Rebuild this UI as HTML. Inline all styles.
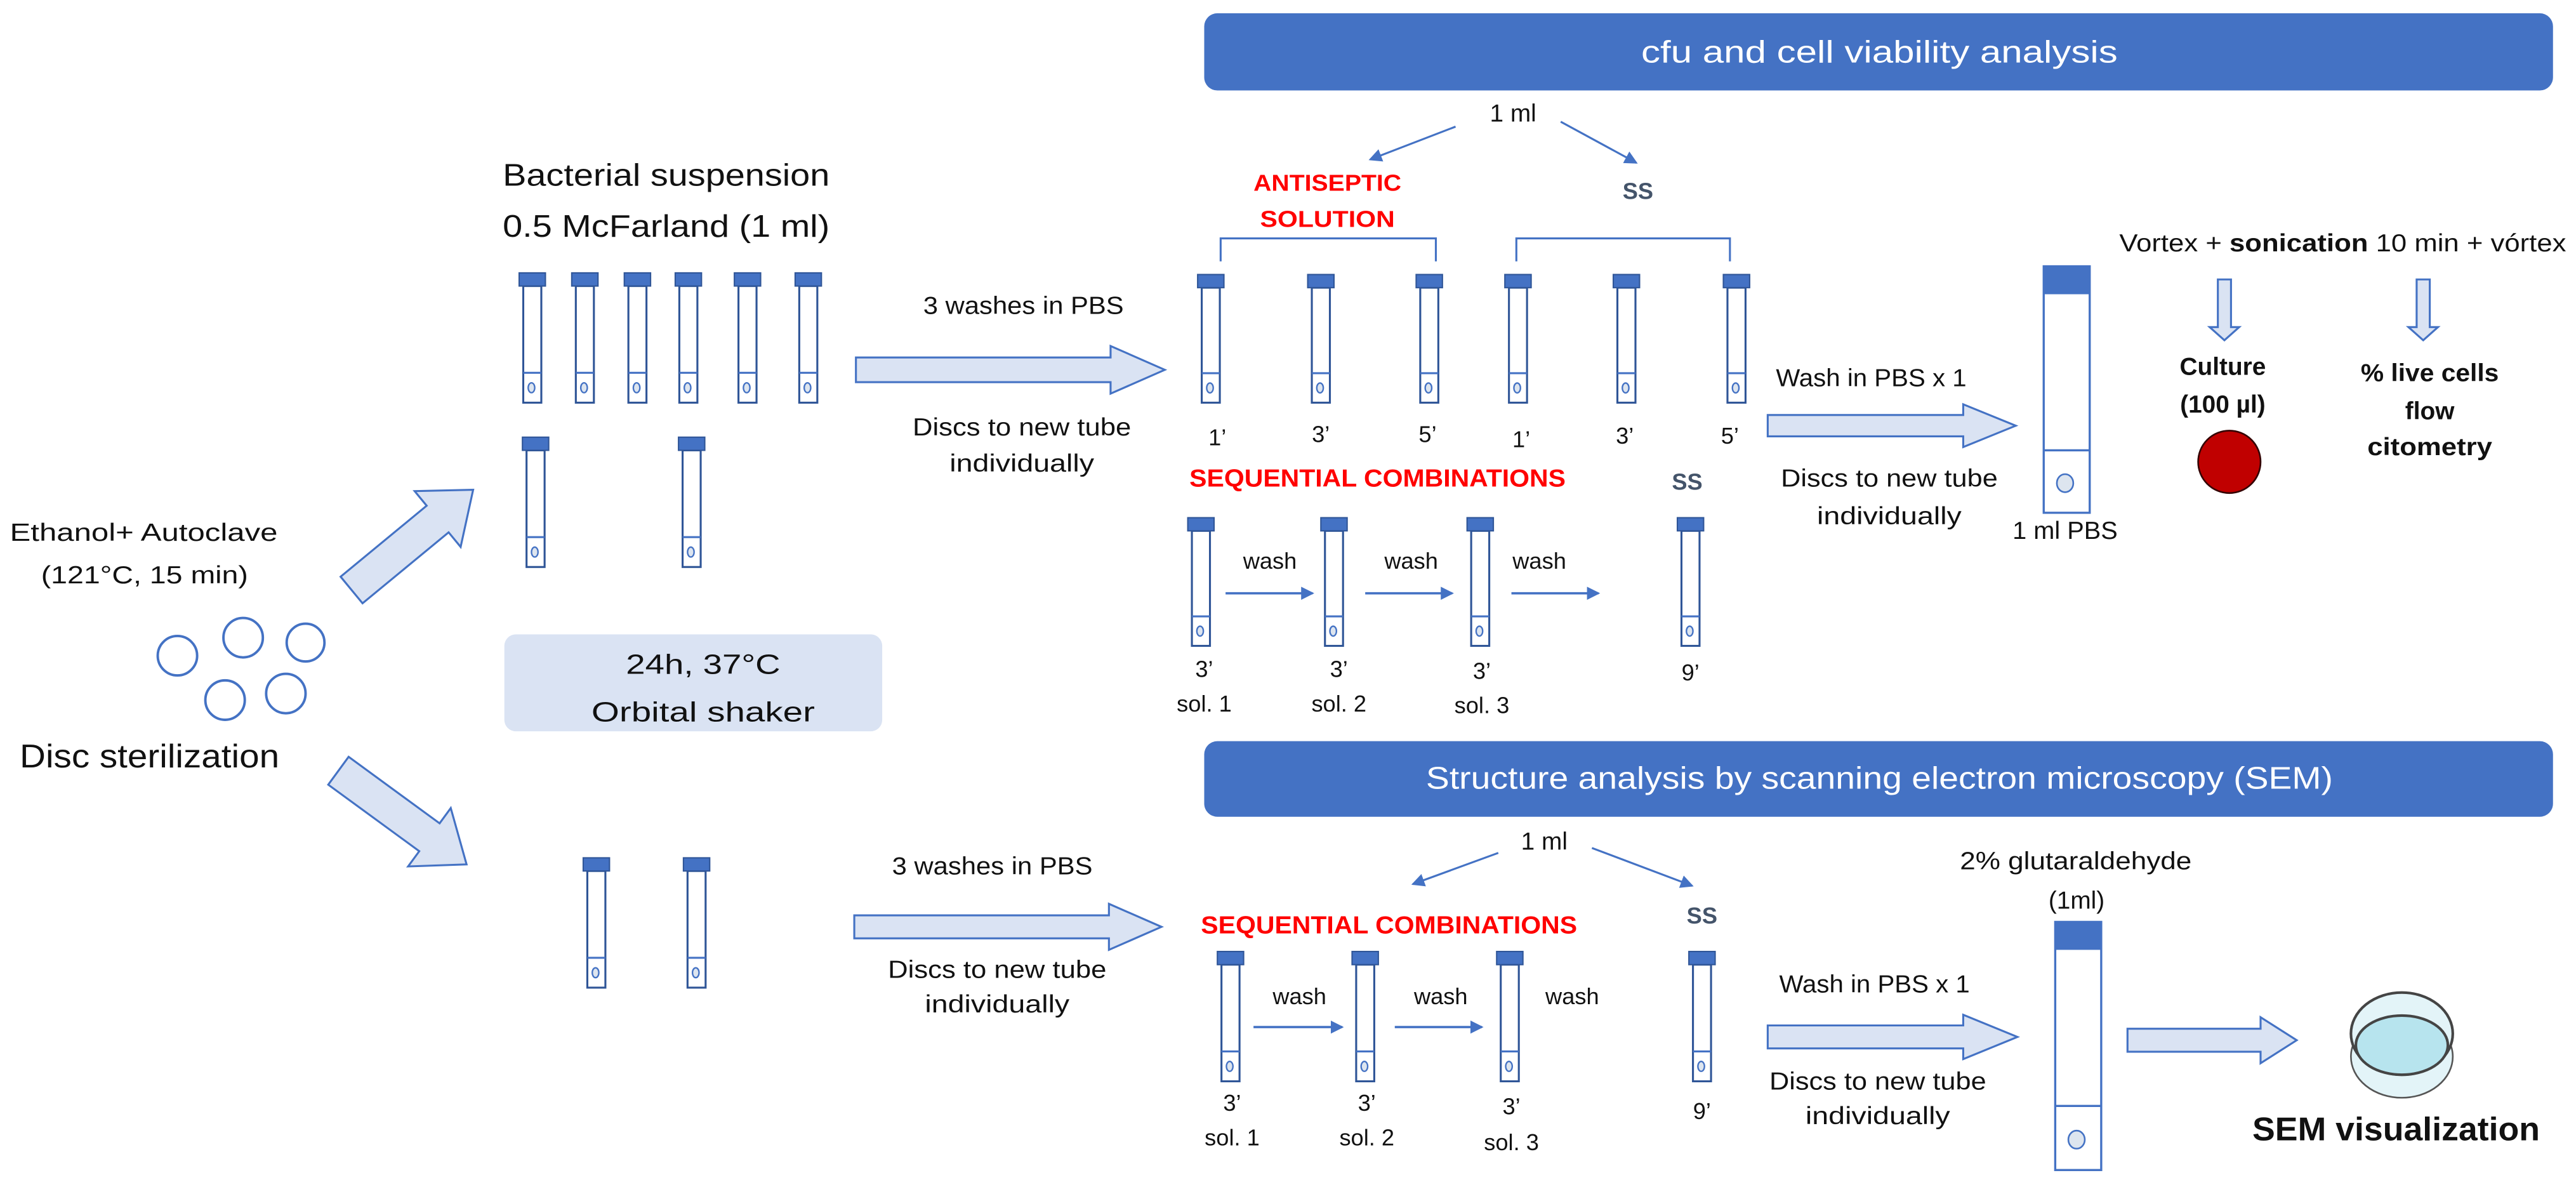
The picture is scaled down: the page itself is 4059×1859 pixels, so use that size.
<!DOCTYPE html>
<html><head><meta charset="utf-8">
<style>
html,body{margin:0;padding:0;background:#fff;}
svg{display:block;}
text{font-family:"Liberation Sans",sans-serif;fill:#111;}
</style></head>
<body>
<svg id="s" width="4059" height="1859" viewBox="0 0 1568 718" xmlns="http://www.w3.org/2000/svg">
<defs>
<marker id="ah" markerWidth="8" markerHeight="8" refX="7" refY="4" orient="auto" markerUnits="userSpaceOnUse">
<path d="M0,0 L8,4 L0,8 z" fill="#4472C4"/></marker>
</defs>
<!-- header bars -->
<rect x="733" y="8" width="821" height="47" rx="8" fill="#4472C4"/>
<text x="1144" y="38" font-size="19" text-anchor="middle" textLength="290" lengthAdjust="spacingAndGlyphs" style="fill:#fff">cfu and cell viability analysis</text>
<rect x="733" y="451" width="821" height="46" rx="8" fill="#4472C4"/>
<text x="1144" y="480" font-size="19" text-anchor="middle" textLength="552" lengthAdjust="spacingAndGlyphs" style="fill:#fff">Structure analysis by scanning electron microscopy (SEM)</text>

<!-- left section -->
<text x="306" y="113" font-size="19" textLength="199" lengthAdjust="spacingAndGlyphs">Bacterial suspension</text>
<text x="306" y="144" font-size="19" textLength="199" lengthAdjust="spacingAndGlyphs">0.5 McFarland (1 ml)</text>
<text x="6" y="329" font-size="15" textLength="163" lengthAdjust="spacingAndGlyphs">Ethanol+  Autoclave</text>
<text x="88" y="355" font-size="15" text-anchor="middle" textLength="126" lengthAdjust="spacingAndGlyphs">(121°C, 15 min)</text>
<g fill="none" stroke="#4472C4" stroke-width="1.5">
<circle cx="108" cy="399" r="12"/><circle cx="148" cy="388" r="12"/><circle cx="186" cy="391" r="11.5"/>
<circle cx="137" cy="426" r="12"/><circle cx="174" cy="422" r="12"/></g>
<text x="12" y="467" font-size="20" textLength="158" lengthAdjust="spacingAndGlyphs">Disc sterilization</text>
<rect x="307" y="386" width="230" height="59" rx="7" fill="#DAE3F3"/>
<text x="428" y="410" font-size="17" text-anchor="middle" textLength="94" lengthAdjust="spacingAndGlyphs">24h, 37°C</text>
<text x="428" y="439" font-size="17" text-anchor="middle" textLength="136" lengthAdjust="spacingAndGlyphs">Orbital shaker</text>

<g id="arrows" fill="#DAE3F3" stroke="#4472C4" stroke-width="1.2"></g>
<g id="tubes"></g>

<!-- top middle -->
<text x="921" y="74" font-size="15" text-anchor="middle">1 ml</text>
<line x1="886" y1="77" x2="834" y2="97" stroke="#4472C4" stroke-width="1.2" marker-end="url(#ah)"/>
<line x1="950" y1="74" x2="996" y2="99" stroke="#4472C4" stroke-width="1.2" marker-end="url(#ah)"/>
<text x="808" y="116" font-size="14" font-weight="bold" text-anchor="middle" textLength="90" lengthAdjust="spacingAndGlyphs" style="fill:#FF0000">ANTISEPTIC</text>
<text x="808" y="138" font-size="14" font-weight="bold" text-anchor="middle" textLength="82" lengthAdjust="spacingAndGlyphs" style="fill:#FF0000">SOLUTION</text>
<text x="997" y="121" font-size="14" font-weight="bold" text-anchor="middle" style="fill:#44546A">SS</text>
<path d="M743,159 V145 H874 V159" fill="none" stroke="#4472C4" stroke-width="1.2"/>
<path d="M923,159 V145 H1053 V159" fill="none" stroke="#4472C4" stroke-width="1.2"/>
<g font-size="14" text-anchor="middle">
<text x="741" y="271">1’</text><text x="804" y="269">3’</text><text x="869" y="269">5’</text>
<text x="926" y="272">1’</text><text x="989" y="270">3’</text><text x="1053" y="270">5’</text></g>
<text x="623" y="191" font-size="15" text-anchor="middle" textLength="122" lengthAdjust="spacingAndGlyphs">3 washes in PBS</text>
<text x="622" y="265" font-size="15" text-anchor="middle" textLength="133" lengthAdjust="spacingAndGlyphs">Discs to new tube</text>
<text x="622" y="287" font-size="15" text-anchor="middle" textLength="88" lengthAdjust="spacingAndGlyphs">individually</text>
<text x="724" y="296" font-size="15" font-weight="bold" textLength="229" lengthAdjust="spacingAndGlyphs" style="fill:#FF0000">SEQUENTIAL COMBINATIONS</text>
<text x="1027" y="298" font-size="14" font-weight="bold" text-anchor="middle" style="fill:#44546A">SS</text>
<g font-size="14" text-anchor="middle">
<text x="733" y="412">3’</text><text x="733" y="433">sol. 1</text>
<text x="815" y="412">3’</text><text x="815" y="433">sol. 2</text>
<text x="902" y="413">3’</text><text x="902" y="434">sol. 3</text>
<text x="1029" y="414">9’</text>
<text x="773" y="346">wash</text><text x="859" y="346">wash</text><text x="937" y="346">wash</text></g>
<g stroke="#4472C4" stroke-width="1.4" marker-end="url(#ah)">
<line x1="746" y1="361" x2="799" y2="361"/><line x1="831" y1="361" x2="884" y2="361"/><line x1="920" y1="361" x2="973" y2="361"/></g>
<text x="1139" y="235" font-size="15" text-anchor="middle" textLength="116" lengthAdjust="spacingAndGlyphs">Wash in PBS x 1</text>
<text x="1150" y="296" font-size="15" text-anchor="middle" textLength="132" lengthAdjust="spacingAndGlyphs">Discs to new tube</text>
<text x="1150" y="319" font-size="15" text-anchor="middle" textLength="88" lengthAdjust="spacingAndGlyphs">individually</text>
<text x="1257" y="328" font-size="15" text-anchor="middle" textLength="64" lengthAdjust="spacingAndGlyphs">1 ml PBS</text>
<text x="1290" y="153" font-size="15" textLength="272" lengthAdjust="spacingAndGlyphs">Vortex + <tspan font-weight="bold">sonication</tspan> 10 min + vórtex</text>
<text x="1353" y="228" font-size="15" font-weight="bold" text-anchor="middle">Culture</text>
<text x="1353" y="251" font-size="15" font-weight="bold" text-anchor="middle">(100 µl)</text>
<ellipse cx="1357" cy="281" rx="19" ry="19" fill="#C00000" stroke="#300" stroke-width="1"/>
<text x="1479" y="232" font-size="15" font-weight="bold" text-anchor="middle" textLength="84" lengthAdjust="spacingAndGlyphs">% live cells</text>
<text x="1479" y="255" font-size="15" font-weight="bold" text-anchor="middle">flow</text>
<text x="1479" y="277" font-size="15" font-weight="bold" text-anchor="middle" textLength="76" lengthAdjust="spacingAndGlyphs">citometry</text>

<!-- bottom -->
<text x="604" y="532" font-size="15" text-anchor="middle" textLength="122" lengthAdjust="spacingAndGlyphs">3 washes in PBS</text>
<text x="607" y="595" font-size="15" text-anchor="middle" textLength="133" lengthAdjust="spacingAndGlyphs">Discs to new tube</text>
<text x="607" y="616" font-size="15" text-anchor="middle" textLength="88" lengthAdjust="spacingAndGlyphs">individually</text>
<text x="940" y="517" font-size="15" text-anchor="middle">1 ml</text>
<line x1="912" y1="519" x2="860" y2="538" stroke="#4472C4" stroke-width="1.2" marker-end="url(#ah)"/>
<line x1="969" y1="516" x2="1030" y2="539" stroke="#4472C4" stroke-width="1.2" marker-end="url(#ah)"/>
<text x="731" y="568" font-size="15" font-weight="bold" textLength="229" lengthAdjust="spacingAndGlyphs" style="fill:#FF0000">SEQUENTIAL COMBINATIONS</text>
<text x="1036" y="562" font-size="14" font-weight="bold" text-anchor="middle" style="fill:#44546A">SS</text>
<g font-size="14" text-anchor="middle">
<text x="750" y="676">3’</text><text x="750" y="697">sol. 1</text>
<text x="832" y="676">3’</text><text x="832" y="697">sol. 2</text>
<text x="920" y="678">3’</text><text x="920" y="700">sol. 3</text>
<text x="1036" y="681">9’</text>
<text x="791" y="611">wash</text><text x="877" y="611">wash</text><text x="957" y="611">wash</text></g>
<g stroke="#4472C4" stroke-width="1.4" marker-end="url(#ah)">
<line x1="763" y1="625" x2="817" y2="625"/><line x1="849" y1="625" x2="902" y2="625"/></g>
<text x="1141" y="604" font-size="15" text-anchor="middle" textLength="116" lengthAdjust="spacingAndGlyphs">Wash in PBS x 1</text>
<text x="1143" y="663" font-size="15" text-anchor="middle" textLength="132" lengthAdjust="spacingAndGlyphs">Discs to new tube</text>
<text x="1143" y="684" font-size="15" text-anchor="middle" textLength="88" lengthAdjust="spacingAndGlyphs">individually</text>
<text x="1193" y="529" font-size="15" textLength="141" lengthAdjust="spacingAndGlyphs">2% glutaraldehyde</text>
<text x="1264" y="553" font-size="15" text-anchor="middle">(1ml)</text>
<!-- petri -->
<ellipse cx="1462" cy="643" rx="31" ry="25" fill="#E3F4F8" stroke="#555" stroke-width="1"/>
<ellipse cx="1462" cy="629" rx="31" ry="25" fill="#E3F4F8" stroke="#444" stroke-width="1.6"/>
<ellipse cx="1462" cy="636" rx="28" ry="18" fill="#B7E4EE" stroke="#444" stroke-width="1.6"/>
<text x="1371" y="694" font-size="20" font-weight="bold" textLength="175" lengthAdjust="spacingAndGlyphs">SEM visualization</text>
</svg>
<script>
var NS="http://www.w3.org/2000/svg";
function el(p,t,a){var e=document.createElementNS(NS,t);for(var k in a)e.setAttribute(k,a[k]);p.appendChild(e);return e;}
var T=document.getElementById('tubes');
function tube(cx,top,bot,liqFrac){
  var w=11,cw=16,ch=8;
  el(T,'rect',{x:cx-w/2,y:top+ch,width:w,height:bot-top-ch,fill:'#fff',stroke:'#2F5597','stroke-width':1.2});
  el(T,'rect',{x:cx-cw/2,y:top,width:cw,height:ch,fill:'#4472C4',stroke:'#2F5597','stroke-width':0.8});
  var ly=bot-(bot-top)*(liqFrac||0.23);
  el(T,'line',{x1:cx-w/2,y1:ly,x2:cx+w/2,y2:ly,stroke:'#4472C4','stroke-width':1.2});
  el(T,'ellipse',{cx:cx-0.5,cy:(ly+bot)/2,rx:2,ry:3,fill:'#DDE5EF',stroke:'#4472C4','stroke-width':0.9});
}
[324,356,388,419,455,492].forEach(function(x){tube(x,166,245);});
tube(326,266,345);tube(421,266,345);
[737,804,870,924,990,1057].forEach(function(x){tube(x,167,245);});
[731,812,901,1029].forEach(function(x){tube(x,315,393);});
tube(363,522,601);tube(424,522,601);
[749,831,919,1036].forEach(function(x){tube(x,579,658);});
function big(cx,top,capB,bot,liq){
  el(T,'rect',{x:cx-14,y:top,width:28,height:bot-top,fill:'#fff',stroke:'#4472C4','stroke-width':1.3});
  el(T,'rect',{x:cx-14,y:top,width:28,height:capB-top,fill:'#4472C4'});
  el(T,'line',{x1:cx-14,y1:liq,x2:cx+14,y2:liq,stroke:'#4472C4','stroke-width':1.3});
  el(T,'ellipse',{cx:cx-1,cy:(liq+bot)/2+1,rx:5,ry:5.5,fill:'#DDE5EF',stroke:'#4472C4','stroke-width':1});
}
big(1258,162,179,312,274);
big(1265,561,578,712,673);
var A=document.getElementById('arrows');
function harrow(x1,x2,cy,h,hw,hs){
  var d='M'+x1+','+(cy-h/2)+' H'+hs+' V'+(cy-hw/2)+' L'+x2+','+cy+' L'+hs+','+(cy+hw/2)+' V'+(cy+h/2)+' H'+x1+' Z';
  el(A,'path',{d:d});
}
function varrow(cx,y1,y2,w,hw,hl){
  var d='M'+(cx-w/2)+','+y1+' V'+(y2-hl)+' H'+(cx-hw/2)+' L'+cx+','+y2+' L'+(cx+hw/2)+','+(y2-hl)+' H'+(cx+w/2)+' V'+y1+' Z';
  el(A,'path',{d:d});
}
harrow(521,709,225,15,29,676);
harrow(520,707,564,14,28,675);
harrow(1076,1227,259,13,26,1195);
harrow(1076,1228,631,14,27,1195);
harrow(1295,1398,633,14,28,1376);
varrow(1354,170,207,8,18,8);
varrow(1475,170,207,8,18,8);
function darrow(x1,y1,x2,y2,h,hw,hl){
  var ang=Math.atan2(y2-y1,x2-x1)*180/Math.PI;var L=Math.hypot(x2-x1,y2-y1);
  var g=el(A,'g',{transform:'translate('+x1+','+y1+') rotate('+ang+')'});
  el(g,'path',{d:'M0,'+(-h/2)+' H'+(L-hl)+' V'+(-hw/2)+' L'+L+',0 L'+(L-hl)+','+(hw/2)+' V'+(h/2)+' H0 Z'});
}
darrow(214,359,288,298,21,44,28);
darrow(206,469,284,526,21,44,28);
</script>
</body></html>
